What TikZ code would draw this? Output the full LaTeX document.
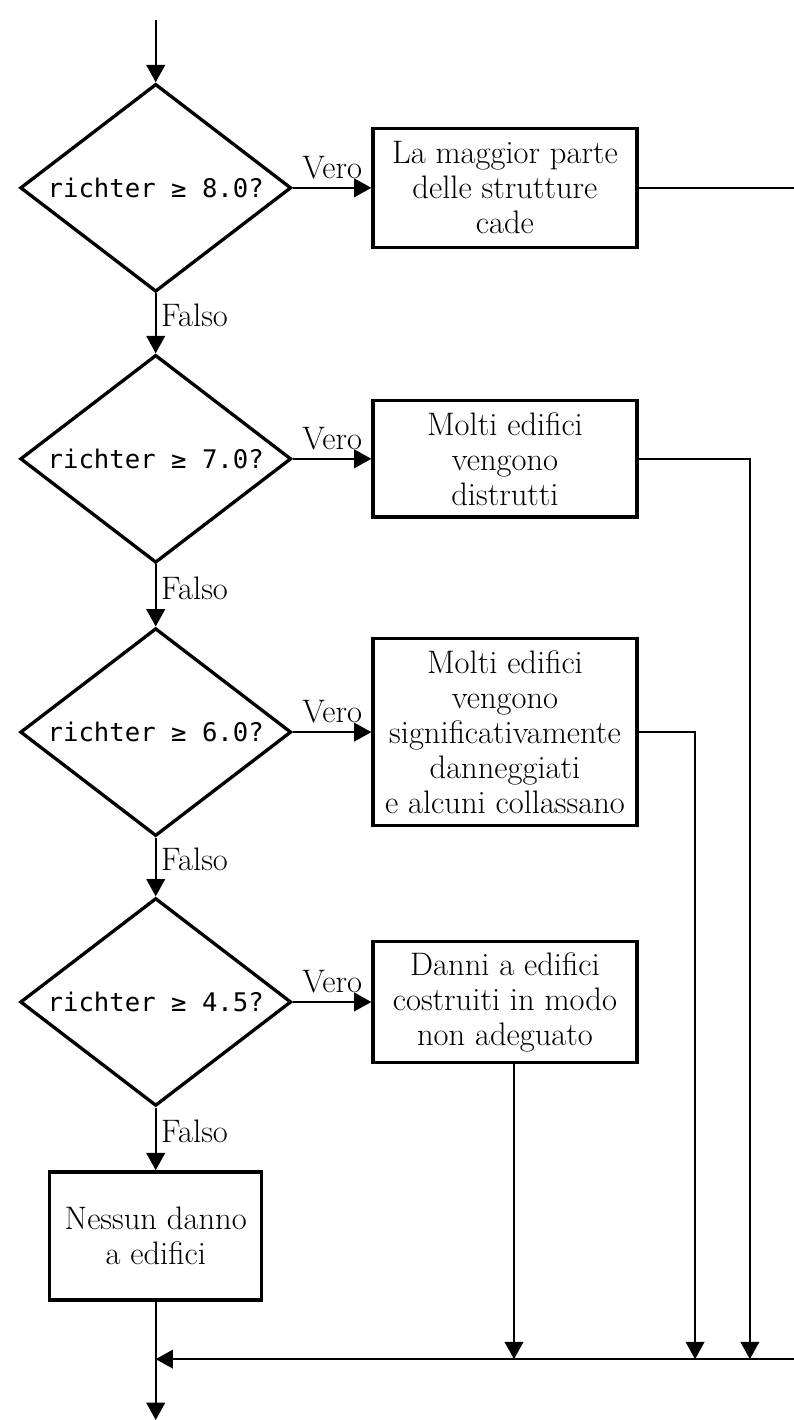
\documentclass[tikz,border=0pt]{standalone}
\usepackage{fontspec}
\setmonofont{DejaVu Sans Mono}
\usetikzlibrary{arrows.meta,shapes.geometric}
\tikzset{
	test/.style={diamond, draw, line width=2.5pt, aspect=1.3, inner sep=0pt,
		minimum width=7.17cm, minimum height=5.5cm,
		font=\ttfamily\fontsize{19.3}{23}\selectfont},
	act/.style={rectangle, draw, line width=2.5pt, align=center, inner sep=1pt,
		minimum width=6.98cm, font=\fontsize{24.5}{26.4}\selectfont},
	flow/.style={line width=1.5pt, -{Triangle[length=13pt,width=14pt]}},
	wire/.style={line width=1.5pt},
	lbl/.style={font=\fontsize{24.5}{26.4}\selectfont},
}

\begin{document}
\begin{tikzpicture}
			\useasboundingbox (0, 0) rectangle (21, 37.57);
			%%%%% TESTS %%%%%
			\node[test] (d8) at (4.12, 32.60) {richter ≥ 8.0?};
			\node[test] (d7) at (4.12, 25.43) {richter ≥ 7.0?};
			\node[test] (d6) at (4.12, 18.20) {richter ≥ 6.0?};
			\node[test] (d45) at (4.12, 11.06) {richter ≥ 4.5?};
			
			%%%%% ACTIONS %%%%%
			\node[act, minimum height=3.15cm] (b8) at (13.36, 32.60) {La maggior parte\\delle strutture\\cade};
			\node[act, minimum height=3.07cm] (b7) at (13.36, 25.43) {Molti edifici\\vengono\\distrutti};
			\node[act, minimum height=4.95cm] (b6) at (13.36, 18.20) {Molti edifici\\vengono\\significativamente\\danneggiati\\e alcuni collassano};
			\node[act, minimum height=3.2cm] (b45) at (13.36, 11.06) {Danni a edifici\\costruiti in modo\\non adeguato};
			\node[act, minimum width=5.61cm, minimum height=3.39cm] (bnone) at (4.12, 4.87) {Nessun danno\\a edifici};
			
			\coordinate (top) at (4.12, 37.04);
			\coordinate (bottom) at (4.12, 0);
			\coordinate (join) at (4.12, 1.61);
			\coordinate (edge8) at (21, 32.60);
			\coordinate (edgej) at (21, 1.61);
			\coordinate (r7) at (19.84, 1.61);
			\coordinate (r6) at (18.39, 1.61);
			\coordinate (r45) at (13.60, 1.61);
			
			%%%%% FLOW %%%%%
			\draw[flow] (top) -- (d8);
			\draw[flow] (d8) -- node[lbl, above, yshift=0.1cm] {Vero} (b8);
			\draw[flow] (d8) -- node[lbl, right, yshift=0.2cm] {Falso} (d7);
			\draw[flow] (d7) -- node[lbl, above, yshift=0.1cm] {Vero} (b7);
			\draw[flow] (d7) -- node[lbl, right, yshift=0.2cm] {Falso} (d6);
			\draw[flow] (d6) -- node[lbl, above, yshift=0.1cm] {Vero} (b6);
			\draw[flow] (d6) -- node[lbl, right, yshift=0.2cm] {Falso} (d45);
			\draw[flow] (d45) -- node[lbl, above, yshift=0.1cm] {Vero} (b45);
			\draw[flow] (d45) -- node[lbl, right, yshift=0.2cm] {Falso} (bnone);
			
			%%%%% JOIN %%%%%
			\draw[wire] (b8) -- (edge8);
			\draw[flow] (b7.east) -| (r7);
			\draw[flow] (b6.east) -| (r6);
			\draw[flow] (b45.south -| r45) -- (r45);
			\draw[flow] (edgej) -- (join);
			\draw[flow] (bnone) -- (bottom);
		\end{tikzpicture}
\end{document}
